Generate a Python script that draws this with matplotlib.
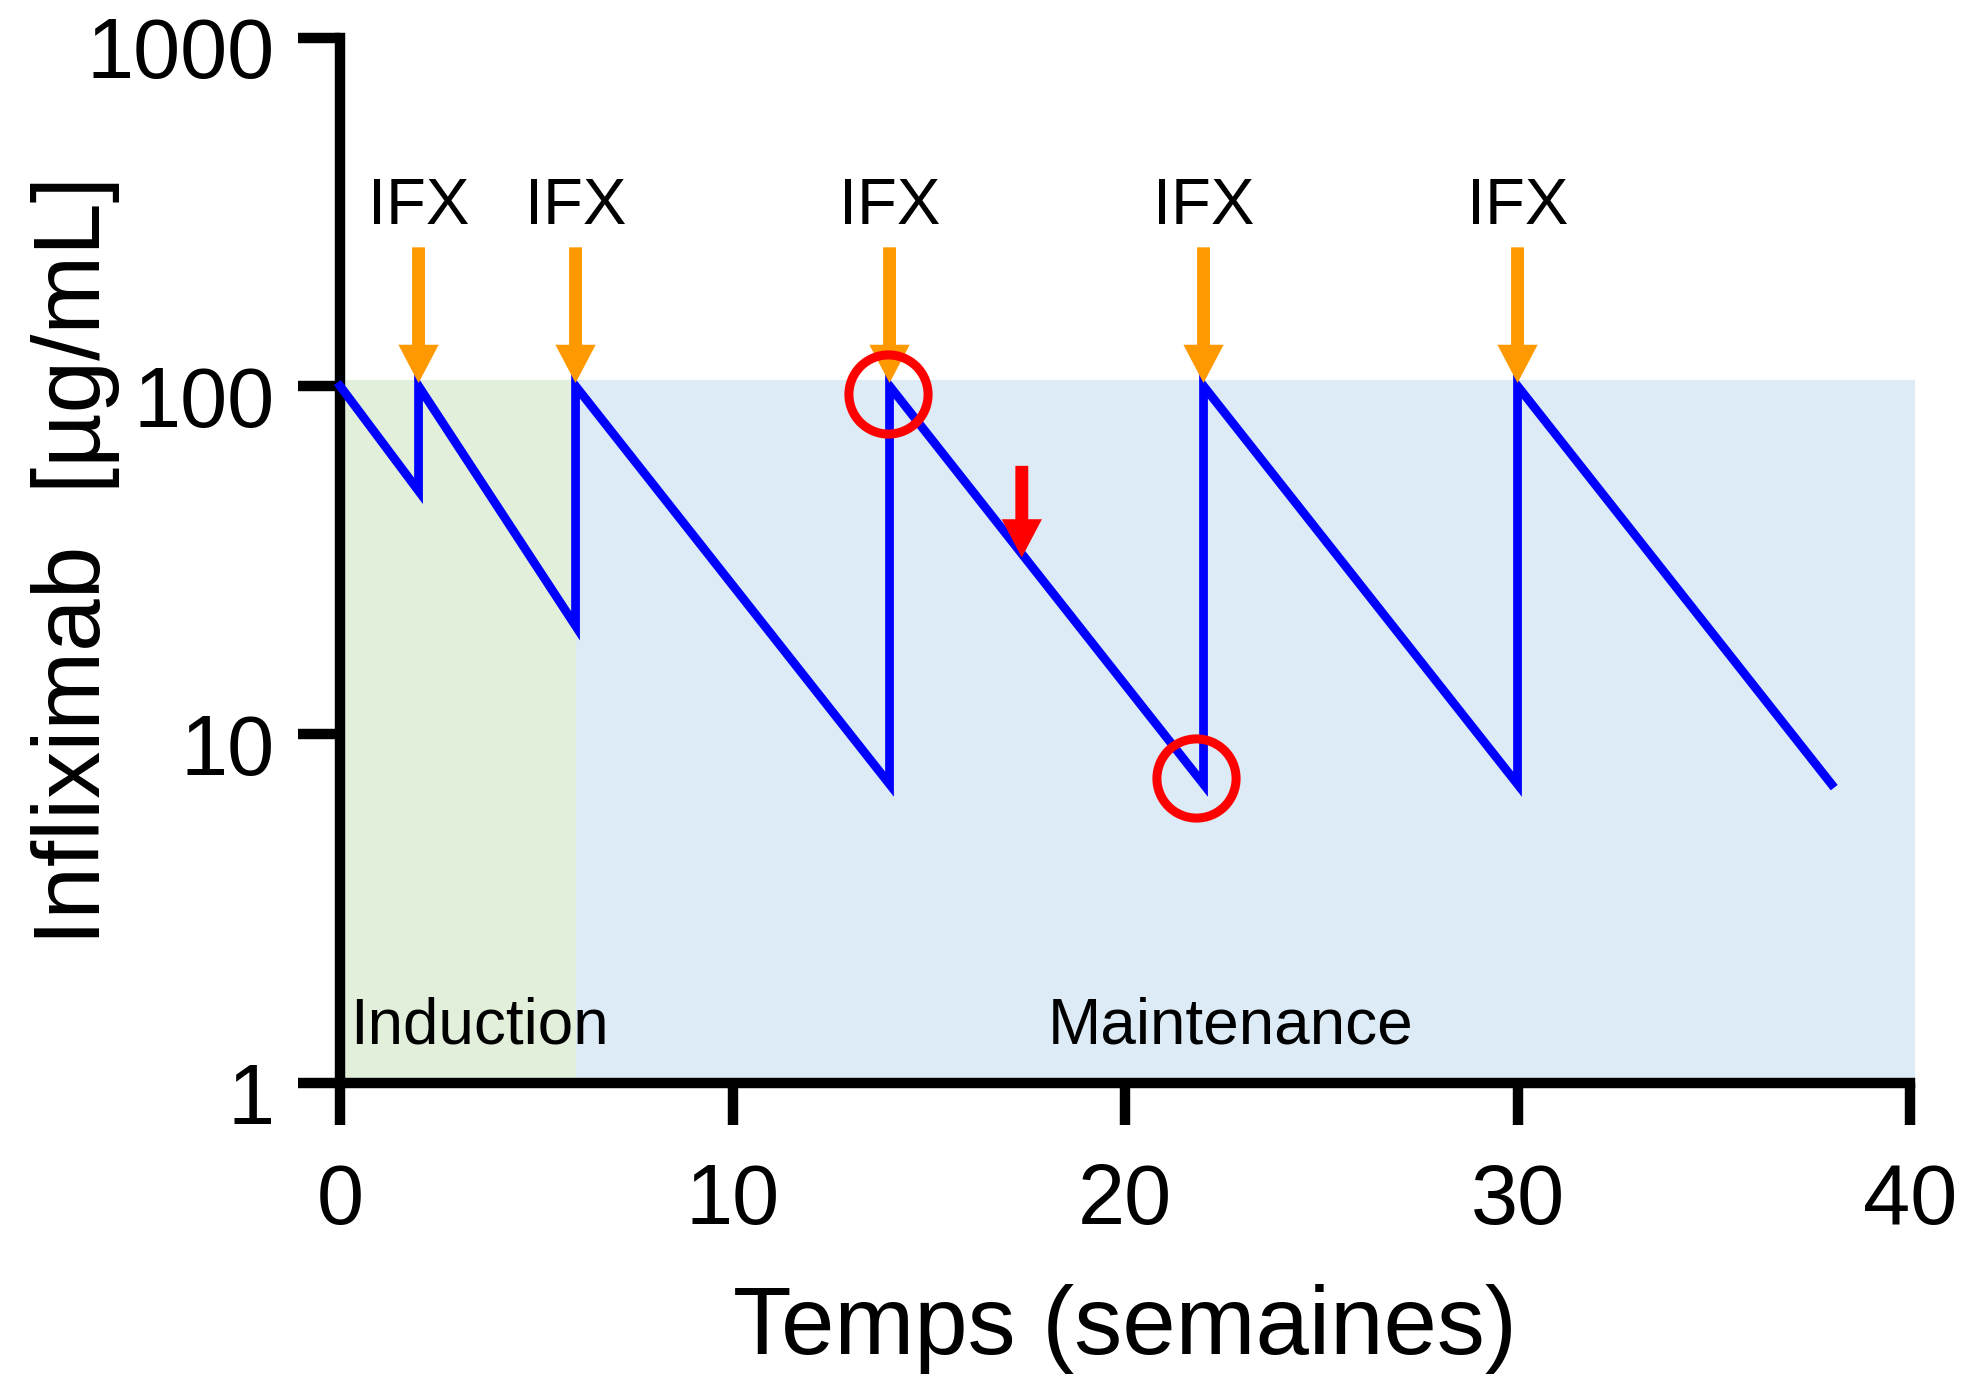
import numpy as np
import matplotlib.pyplot as plt
import matplotlib.transforms as mtrans

plt.rcParams['font.family'] = ['Liberation Sans', 'DejaVu Sans']

# concentration profile (weeks, ug/mL)
weeks = [0, 2, 2, 6, 6, 14, 14, 22, 22, 30, 30, 38]
conc = [100, 50, 100, 20.5, 100, 7.2, 100, 7.2, 100, 7.2, 100, 7.2]

# doses
dose_weeks = [2, 6, 14, 22, 30]
dose_label = 'IFX'

# red markers
circle_x = [13.95, 21.8]
circle_y = [95, 7.5]
red_arrow_x = 17.37

# phases
phase_names = ['Induction', 'Maintenance']
phase_start = [0, 6]
phase_end = [6, 40.13]
phase_top = 104

xticks = [0, 10, 20, 30, 40]
yticks = [1, 10, 100, 1000]
ytick_labels = ['1', '10', '100', '1000']

fig = plt.figure(figsize=(19.61, 13.75), dpi=100)
ax = fig.add_axes([0.1734, 0.2124, 0.8006, 0.7603])

phase_colors = ['#e2efda', '#ddebf7']
for s, e, c in zip(phase_start, phase_end, phase_colors):
    ax.fill_between([s, e], 1, phase_top, color=c, lw=0, zorder=0, clip_on=False)

ax.plot(weeks, conc, color='#0000ff', lw=6.3, zorder=3, clip_on=False,
        solid_joinstyle='miter')

arrow_style = 'simple,head_length=0.95,head_width=1.0,tail_width=0.32'

# dose arrows + labels
for w in dose_weeks:
    ax.annotate('', xy=(w, 102), xytext=(w, 250),
                arrowprops=dict(arrowstyle=arrow_style, mutation_scale=29,
                                color='#ff9900', lw=0, shrinkA=0, shrinkB=0),
                zorder=4)
    ax.text(w, 292, dose_label, ha='center', va='baseline', fontsize=47)

ax.annotate('', xy=(red_arrow_x, 32.2), xytext=(red_arrow_x, 59),
            arrowprops=dict(arrowstyle=arrow_style, mutation_scale=29,
                            color='#ff0000', lw=0, shrinkA=0, shrinkB=0),
            zorder=4)

ax.plot(circle_x, circle_y, 'o', ms=57, mfc='none', mec='#ff0000', mew=6.5,
        zorder=5, clip_on=False)

ax.text(0.25, 1.30, phase_names[0], ha='left', va='baseline', fontsize=46)
ax.text(22.7, 1.30, phase_names[1], ha='center', va='baseline', fontsize=46)

ax.set_yscale('log')
ax.set_xlim(0, 40)
ax.set_ylim(1, 1000)
ax.set_xticks(xticks)
ax.set_yticks(yticks)
ax.set_yticklabels(ytick_labels)
ax.minorticks_off()

for sp in ['top', 'right']:
    ax.spines[sp].set_visible(False)
for sp in ['left', 'bottom']:
    ax.spines[sp].set_linewidth(7.5)
    ax.spines[sp].set_capstyle('projecting')
ax.tick_params(direction='out', length=30, width=7.5, labelsize=61)
ax.tick_params(axis='x', pad=27)
ax.tick_params(axis='y', pad=17)

# y tick labels sit a little below their ticks in the original
shift = mtrans.ScaledTranslation(0, -7 / 72, fig.dpi_scale_trans)
for lab in ax.get_yticklabels():
    lab.set_transform(lab.get_transform() + shift)

ax.set_xlabel('Temps (semaines)', fontsize=69, labelpad=30)
ax.set_ylabel('Infliximab  [µg/mL]', fontsize=68)
ax.yaxis.set_label_coords(-0.140, 0.5)

fig.savefig('out.png', dpi=100)
